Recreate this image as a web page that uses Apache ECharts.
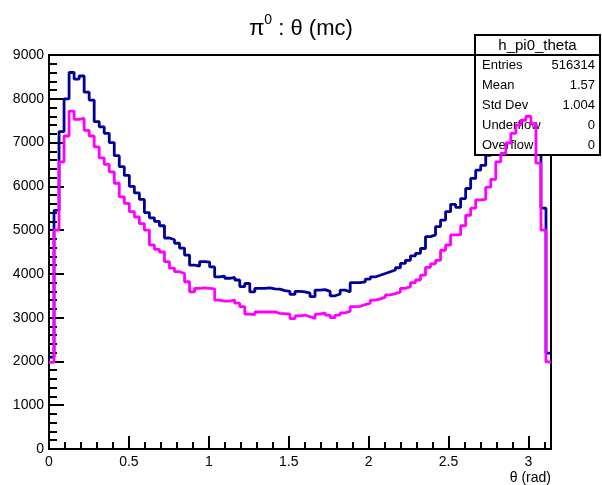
<!DOCTYPE html>
<html>
<head>
<meta charset="utf-8">
<script src="https://cdn.jsdelivr.net/npm/echarts@6/dist/echarts.min.js"></script>
<style>
  html, body { margin: 0; padding: 0; background: #fff; }
  #chart { width: 602px; height: 485px; }
</style>
</head>
<body>
<div id="chart"></div>
<script>
// Histogram binning: 100 equal bins over [0, pi]
const N_BINS = 100;
const THETA_MAX = Math.PI;

// Bin contents, h_pi0_theta (dark blue)
const countsBlue = [
  2100, 5450, 7250, 8000, 8600, 8450, 8520, 8150, 7970, 7480,
  7360, 7210, 7000, 6700, 6450, 6250, 6000, 5850, 5700, 5400,
  5280, 5200, 5100, 4820, 4780, 4700, 4590, 4430, 4200, 4180,
  4280, 4270, 4160, 3930, 3950, 3900, 3920, 3860, 3710, 3780,
  3590, 3670, 3670, 3680, 3660, 3650, 3620, 3600, 3530, 3600,
  3590, 3560, 3480, 3630, 3640, 3600, 3500, 3540, 3630, 3590,
  3800, 3800, 3820, 3880, 3930, 3970, 4010, 4050, 4090, 4140,
  4240, 4310, 4410, 4470, 4580, 4850, 4890, 5080, 5230, 5420,
  5590, 5520, 5720, 5950, 6180, 6370, 6480, 6710, 6920, 7350,
  7580, 7850, 8100, 8300, 8430, 8540, 8350, 7330, 5500, 2190
];

// Bin contents, second histogram (magenta)
const countsMagenta = [
  1980, 5000, 6560, 7150, 7720, 7530, 7550, 7280, 7150, 6900,
  6650, 6500, 6330, 6070, 5760, 5610, 5420, 5300, 5150, 5000,
  4660, 4560, 4500, 4280, 4130, 4050, 4010, 3820, 3590, 3670,
  3680, 3670, 3660, 3400, 3380, 3380, 3400, 3330, 3250, 3080,
  3070, 3130, 3130, 3130, 3130, 3100, 3090, 3080, 2980, 3040,
  3060, 3020, 2980, 3080, 3110, 3060, 3000, 3060, 3110, 3150,
  3250, 3260, 3300, 3330, 3400, 3430, 3470, 3520, 3550, 3590,
  3670, 3710, 3800, 3860, 3970, 4150, 4230, 4310, 4540, 4660,
  4890, 4900, 5100, 5340, 5500, 5690, 5700, 5980, 6160, 6560,
  6750, 6990, 7210, 7400, 7510, 7600, 7430, 6530, 5000, 1990
];

// Axis tick labels
const xTickLabels = ['0', '0.5', '1', '1.5', '2', '2.5', '3'];
const yTickLabels = ['0', '1000', '2000', '3000', '4000', '5000', '6000', '7000', '8000', '9000'];

// Stats box rows
const statNames = ['Entries', 'Mean', 'Std Dev', 'Underflow', 'Overflow'];
const statValues = ['516314', '1.57', '1.004', '0', '0'];

const FONT = '"Liberation Sans", Arial, Helvetica, sans-serif';

// Turn bin contents into step-line points at the bin low edges (+ final edge)
function histPoints(counts) {
  const w = THETA_MAX / N_BINS;
  const pts = counts.map((c, k) => [k * w, c]);
  pts.push([THETA_MAX, counts[counts.length - 1]]);
  return pts;
}

const chart = echarts.init(document.getElementById('chart'), null, { renderer: 'canvas' });

// Stats box (drawn above the blue histogram, below the magenta one)
const boxX = 475, boxY = 35, boxW = 125, boxH = 120, headH = 20;
const statGraphics = [
  { type: 'rect', z: 5, shape: { x: boxX, y: boxY, width: boxW, height: boxH },
    style: { fill: '#fff', stroke: '#000', lineWidth: 2 } },
  { type: 'line', z: 5, shape: { x1: boxX, y1: boxY + headH, x2: boxX + boxW, y2: boxY + headH },
    style: { stroke: '#000', lineWidth: 2 } },
  { type: 'text', z: 6, x: boxX + boxW / 2, y: boxY + headH / 2 + 1,
    style: { text: 'h_pi0_theta', fill: '#000', font: '15px ' + FONT, align: 'center', verticalAlign: 'middle' } }
];
statNames.forEach((name, i) => {
  const y = boxY + headH + 10 + i * 20.2;
  statGraphics.push({ type: 'text', z: 6, x: boxX + 7, y: y,
    style: { text: name, fill: '#000', font: '13px ' + FONT, align: 'left', verticalAlign: 'middle' } });
  statGraphics.push({ type: 'text', z: 6, x: boxX + boxW - 5, y: y,
    style: { text: statValues[i], fill: '#000', font: '13px ' + FONT, align: 'right', verticalAlign: 'middle' } });
});

chart.setOption({
  animation: false,
  backgroundColor: '#fff',
  title: {
    text: '{a|π}{s|0}{a| : θ (mc)}',
    left: 'center',
    top: 8,
    textStyle: {
      fontWeight: 'normal',
      rich: {
        a: { fontFamily: FONT, fontSize: 22, fontWeight: 'normal', color: '#000', lineHeight: 27, verticalAlign: 'bottom' },
        s: { fontFamily: FONT, fontSize: 14, fontWeight: 'normal', color: '#000', lineHeight: 27, verticalAlign: 'top' }
      }
    }
  },
  grid: {
    left: 49, right: 51, top: 55, bottom: 36,
    show: true, borderColor: '#000', borderWidth: 2, backgroundColor: 'transparent'
  },
  xAxis: {
    type: 'value',
    min: 0,
    max: THETA_MAX,
    interval: 0.5,
    name: 'θ (rad)',
    nameLocation: 'end',
    nameGap: 0,
    nameTextStyle: { fontFamily: FONT, fontSize: 14, color: '#000', align: 'right', verticalAlign: 'top', padding: [22, 0, 0, 0] },
    axisLine: { show: true, onZero: false, lineStyle: { color: '#000', width: 2 } },
    axisTick: { show: true, inside: true, length: 13, lineStyle: { color: '#000', width: 2 } },
    minorTick: { show: true, splitNumber: 5, length: 7, lineStyle: { color: '#000', width: 2 } },
    axisLabel: {
      margin: 6,
      fontFamily: FONT, fontSize: 14, color: '#000',
      formatter: function (v) {
        const idx = Math.round(v / 0.5);
        return Math.abs(v - idx * 0.5) < 1e-9 && idx < xTickLabels.length ? xTickLabels[idx] : '';
      }
    },
    splitLine: { show: false }
  },
  yAxis: {
    type: 'value',
    min: 0,
    max: 9000,
    interval: 1000,
    axisLine: { show: true, onZero: false, lineStyle: { color: '#000', width: 2 } },
    axisTick: { show: true, inside: true, length: 15, lineStyle: { color: '#000', width: 2 } },
    minorTick: { show: true, splitNumber: 5, length: 8, lineStyle: { color: '#000', width: 2 } },
    axisLabel: {
      margin: 5,
      fontFamily: FONT, fontSize: 14, color: '#000',
      formatter: function (v) { return yTickLabels[Math.round(v / 1000)]; }
    },
    splitLine: { show: false }
  },
  graphic: { elements: statGraphics },
  series: [
    {
      name: 'h_pi0_theta',
      type: 'line',
      step: 'end',
      z: 1,
      symbol: 'none',
      clip: true,
      data: histPoints(countsBlue),
      lineStyle: { color: '#000099', width: 2.8 },
      itemStyle: { color: '#000099' }
    },
    {
      name: 'magenta',
      type: 'line',
      step: 'end',
      z: 10,
      symbol: 'none',
      clip: true,
      data: histPoints(countsMagenta),
      lineStyle: { color: '#ff00ff', width: 2.8 },
      itemStyle: { color: '#ff00ff' }
    }
  ]
});
</script>
</body>
</html>
